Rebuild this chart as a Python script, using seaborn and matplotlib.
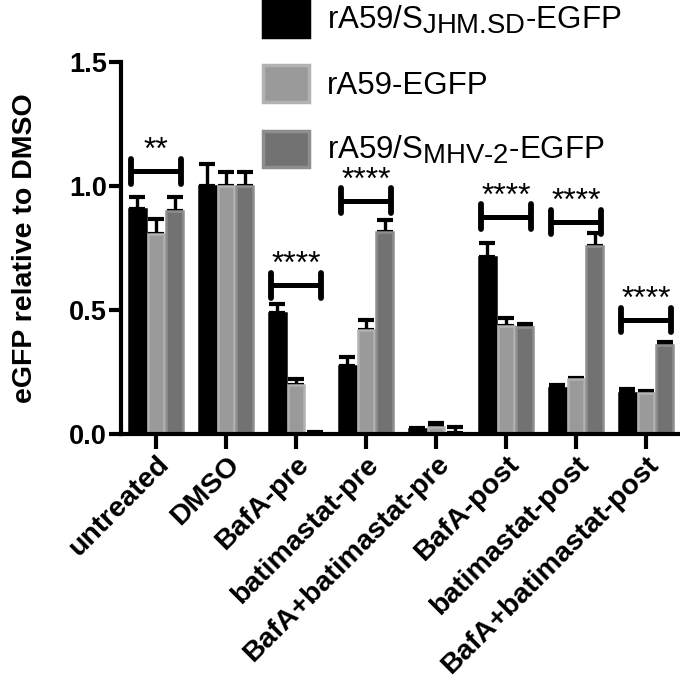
import matplotlib.pyplot as plt
import matplotlib.patches as mpatches
import matplotlib._mathtext as mathtext_impl
import pandas as pd
import seaborn as sns

conditions = ['untreated', 'DMSO', 'BafA-pre', 'batimastat-pre', 'BafA+batimastat-pre',
              'BafA-post', 'batimastat-post', 'BafA+batimastat-post']
viruses = [r'rA59/S$_\text{JHM.SD}$-EGFP', 'rA59-EGFP',
           r'rA59/S$_\text{MHV-2}$-EGFP']

jhm_mean = [0.907, 1.0, 0.489, 0.274, 0.020, 0.715, 0.185, 0.167]
a59_mean = [0.806, 1.0, 0.197, 0.419, 0.028, 0.435, 0.220, 0.167]
mhv2_mean = [0.900, 1.0, 0.006, 0.816, 0.003, 0.430, 0.758, 0.359]
jhm_sem = [0.049, 0.090, 0.035, 0.038, 0.005, 0.055, 0.012, 0.013]
a59_sem = [0.061, 0.056, 0.023, 0.041, 0.016, 0.032, 0.005, 0.008]
mhv2_sem = [0.056, 0.056, 0.003, 0.047, 0.024, 0.013, 0.052, 0.013]

# significance brackets: condition, bracket height, stars
sig_cond = ['untreated', 'BafA-pre', 'batimastat-pre', 'BafA-post', 'batimastat-post', 'BafA+batimastat-post']
sig_y = [1.06, 0.60, 0.94, 0.877, 0.855, 0.46]
sig_label = ['**', '****', '****', '****', '****', '****']

face = ['#000000', '#9a9a9a', '#727272']
edge = ['#000000', '#b2b2b2', '#8e8e8e']

df = pd.DataFrame({
    'condition': conditions * 3,
    'virus': [v for v in viruses for _ in conditions],
    'value': jhm_mean + a59_mean + mhv2_mean,
})
sems = [jhm_sem, a59_sem, mhv2_sem]

sns.set_style('ticks', {'axes.edgecolor': 'black', 'xtick.color': 'black', 'ytick.color': 'black',
                        'text.color': 'black', 'axes.labelcolor': 'black'})
plt.rcParams['font.family'] = ['Liberation Sans', 'DejaVu Sans']
plt.rcParams['mathtext.fontset'] = 'custom'
plt.rcParams['mathtext.rm'] = 'Liberation Sans'
# larger subscripts, like the original figure
mathtext_impl.SHRINK_FACTOR = 0.88

fig = plt.figure(figsize=(6.8, 6.8), dpi=100)
ax = fig.add_axes([121 / 680, 1 - 434 / 680, 559 / 680, 372 / 680])

sns.barplot(data=df, x='condition', y='value', hue='virus', hue_order=viruses,
            palette=face, errorbar=None, width=0.8, gap=0.1, legend=False, ax=ax)

bar_groups = list(ax.containers)
for k, cont in enumerate(bar_groups):
    for bar, err in zip(cont.patches, sems[k]):
        bar.set_edgecolor(edge[k])
        bar.set_linewidth(1.8)
        bar.set_zorder(2)
        x = bar.get_x() + bar.get_width() / 2
        h = bar.get_height()
        ax.errorbar(x, h, yerr=[[0], [err]], color='black', lw=2.4,
                    capsize=6, capthick=3, zorder=1)

for cond, y, lab in zip(sig_cond, sig_y, sig_label):
    i = conditions.index(cond)
    x0, x1 = i - 0.36, i + 0.36
    ax.plot([x0, x1], [y, y], color='black', lw=3.6, solid_capstyle='butt')
    ax.vlines([x0, x1], y - 0.05, y + 0.05, color='black', lw=4.2, capstyle='round')
    ax.text(i, y + 0.02, lab, ha='center', va='bottom', fontsize=23)

ax.set_ylim(0, 1.5)
ax.set_xlim(-0.5, 7.486)
ax.set_yticks([0, 0.5, 1.0, 1.5])
ax.set_yticklabels(['0.0', '0.5', '1.0', '1.5'], fontsize=19.5, fontweight='bold')
ax.set_xticks(range(len(conditions)))
ax.set_xticklabels(conditions, rotation=45, ha='right', va='top', rotation_mode='anchor',
                   fontsize=20.5, fontweight='bold')
ax.set_xlabel('')
ax.set_ylabel('eGFP relative to DMSO', fontsize=20.5, fontweight='bold')
ax.yaxis.set_label_coords(-0.148, 0.5)

sns.despine(ax=ax)
for s in ['left', 'bottom']:
    ax.spines[s].set_linewidth(3)
ax.tick_params(axis='y', length=9, width=3, pad=1)
ax.tick_params(axis='x', length=11, width=3, pad=1.5)

handles = [mpatches.Patch(facecolor=face[k], edgecolor=edge[k], linewidth=2.5) for k in range(3)]
fig.legend(handles, viruses, loc='upper left', bbox_to_anchor=(263 / 680, 1.0),
           frameon=False, fontsize=22.5, borderpad=0, borderaxespad=0,
           handlelength=1.47, handleheight=1.42, handletextpad=0.58, labelspacing=0.92)

plt.savefig('out.png', dpi=100)
